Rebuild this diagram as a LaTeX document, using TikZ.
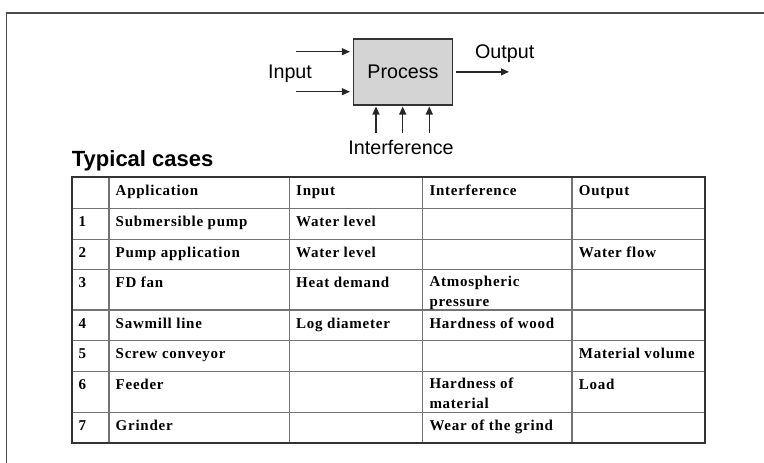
\documentclass[tikz,border=0pt]{standalone}
\usepackage{fontspec}
\setmainfont{Liberation Sans}
\newfontfamily\cellfont[LetterSpace=5]{Liberation Serif}
\usetikzlibrary{arrows.meta}

\tikzset{
  frameline/.style={draw=black!70, line width=1.8pt},
  procbox/.style={draw=black!80, fill=black!17, line width=1.2pt,
    minimum width=99pt, minimum height=66pt, inner sep=0pt,
    font=\fontsize{19.7}{24}\selectfont},
  lbl/.style={inner sep=0pt, font=\fontsize{19.7}{24}\selectfont},
  flow/.style={draw=black!85, line width=1.2pt, -{Triangle[length=8pt,width=7pt]}},
  cell/.style={anchor=base west, inner sep=0pt, align=left,
    font=\fontsize{15}{19.5}\cellfont\bfseries},
  gridline/.style={draw=black!55, line width=1.2pt},
  tabborder/.style={draw=black!80, line width=1.8pt},
}

\begin{document}
\begin{tikzpicture}[x=1pt,y=-1pt]
\useasboundingbox (0,0) rectangle (764,463);
% frame
\draw[frameline] (6.5,463) -- (6.5,13.3) -- (764,13.3);

% process block
\node[procbox] (proc) at (403,71.9) {Process};
\node[lbl] (inp) at (290,73.3) {Input};
\node[lbl] (outp) at (504.7,54) {Output};
\node[lbl] (intf) at (401,147) {Interference};
\coordinate (src1) at (295.7,51.7);
\coordinate (src2) at (295.7,91.7);
\coordinate (sink) at (509,71.9);
\draw[flow, shorten >=3pt] (src1) -- (proc.west |- src1);
\draw[flow, shorten >=3pt] (src2) -- (proc.west |- src2);
\draw[flow, shorten <=3pt] (proc.east) -- (sink);
\foreach \i/\x in {1/376,2/402.7,3/429.3} {
  \coordinate (dist\i) at (\x,132.7);
  \draw[flow, shorten >=1pt] (dist\i) -- (proc.south -| dist\i);
}

% table
\node[anchor=base west, inner sep=0pt, font=\fontsize{22}{24}\selectfont\bfseries]
  (title) at (71.7,166) {Typical cases};
\foreach \y in {208.3,239.3,269.3,310,340.7,371.3,412.3}
  \draw[gridline] (71.7,\y) -- (705.3,\y);
\foreach \x in {109,289.3,422.7,572}
  \draw[gridline] (\x,177.3) -- (\x,443.3);
\draw[tabborder] (71.7,177.3) rectangle (705.3,443.3);

\node[cell] (h-app) at (115.5,195.8) {Application};
\node[cell] (h-inp) at (296,195.8) {Input};
\node[cell] (h-int) at (429.3,195.8) {Interference};
\node[cell] (h-out) at (578.7,195.8) {Output};

\node[cell] (r1-no) at (78.3,226.3) {1};
\node[cell] (r1-app) at (115.5,226.3) {Submersible pump};
\node[cell] (r1-inp) at (296,226.3) {Water level};

\node[cell] (r2-no) at (78.3,257.3) {2};
\node[cell] (r2-app) at (115.5,257.3) {Pump application};
\node[cell] (r2-inp) at (296,257.3) {Water level};
\node[cell] (r2-out) at (578.7,257.3) {Water flow};

\node[cell] (r3-no) at (78.3,287.3) {3};
\node[cell] (r3-app) at (115.5,287.3) {FD fan};
\node[cell] (r3-inp) at (296,287.3) {Heat demand};
% two-line cells sit on the baseline of their last line
\node[cell] (r3-int) at (429.3,306.3) {Atmospheric\\pressure};

\node[cell] (r4-no) at (78.3,328) {4};
\node[cell] (r4-app) at (115.5,328) {Sawmill line};
\node[cell] (r4-inp) at (296,328) {Log diameter};
\node[cell] (r4-int) at (429.3,328) {Hardness of wood};

\node[cell] (r5-no) at (78.3,358.7) {5};
\node[cell] (r5-app) at (115.5,358.7) {Screw conveyor};
\node[cell] (r5-out) at (578.7,358.7) {Material volume};

\node[cell] (r6-no) at (78.3,389.3) {6};
\node[cell] (r6-app) at (115.5,389.3) {Feeder};
\node[cell] (r6-int) at (429.3,408.3) {Hardness of\\material};
\node[cell] (r6-out) at (578.7,389.3) {Load};

\node[cell] (r7-no) at (78.3,430.3) {7};
\node[cell] (r7-app) at (115.5,430.3) {Grinder};
\node[cell] (r7-int) at (429.3,430.3) {Wear of the grind};
\end{tikzpicture}
\end{document}
